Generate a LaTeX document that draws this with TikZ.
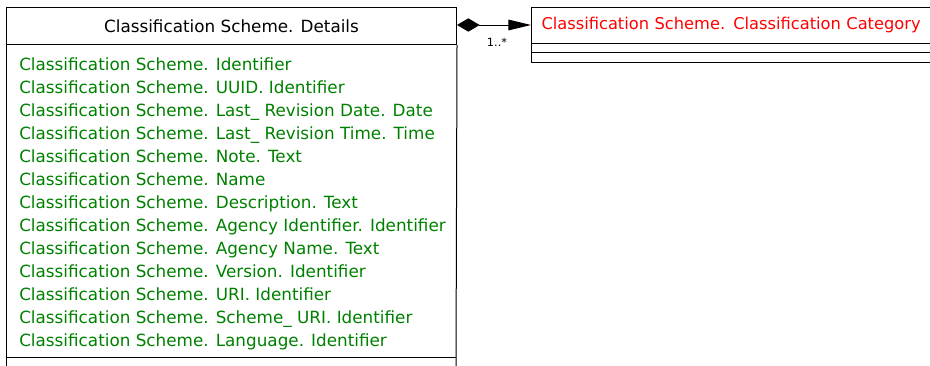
\documentclass[tikz,border=0pt]{standalone}
\usepackage{fontspec}
\setmainfont{DejaVu Sans}
\usetikzlibrary{arrows.meta,positioning}
\definecolor{attrgreen}{RGB}{0,128,0}
\definecolor{refred}{RGB}{255,0,0}
\begin{document}
\begin{tikzpicture}[x=0.75pt,y=-0.75pt,
    classbox/.style={draw, line width=0.75pt, inner sep=0pt, anchor=north west,
      font=\fontsize{12.6}{15}\selectfont},
    attr/.style={anchor=base west, text=attrgreen, inner sep=0pt,
      font=\fontsize{12.6}{15}\selectfont}]
  \useasboundingbox (0,0) rectangle (930,365);

  % left class
  \node[classbox, minimum width=337.5pt, minimum height=27.75pt] (details) at (6,7)
    {Classification Scheme. Details};
  \draw[line width=0.75pt] (details.south west) -- (6,366);
  \draw[line width=0.75pt] (details.south east) -- (456,366);
  \draw[line width=0.75pt] (6,357) -- (456,357);

  \foreach \i/\txt in {0/Identifier, 1/UUID. Identifier,
      2/Last\_ Revision Date. Date, 3/Last\_ Revision Time. Time,
      4/Note. Text, 5/Name, 6/Description. Text,
      7/Agency Identifier. Identifier, 8/Agency Name. Text,
      9/Version. Identifier, 10/URI. Identifier,
      11/Scheme\_ URI. Identifier, 12/Language. Identifier}{
    \node[attr] (attr\i) at (19,70+23*\i) {Classification Scheme. \txt};
  }

  % right class
  \node[classbox, minimum height=27pt, text width=300pt, inner xsep=7.5pt,
    align=left, text=refred, font=\fontsize{12.2}{15}\selectfont] (category) at (531,7)
    {Classification Scheme. Classification Category};
  \draw[line width=0.75pt] (category.south west) -- (531,62) -- (940,62);
  \draw[line width=0.75pt] (531,52) -- (940,52);

  % association
  \draw[line width=0.75pt, {Diamond[length=17pt,width=10pt]}-{Triangle[length=17pt,width=8pt]}]
    (details.east |- 0,25) -- (category.west |- 0,25);
  \node[font=\fontsize{8.5}{9}\selectfont] (mult) at (497,42) {1..*};
\end{tikzpicture}
\end{document}
